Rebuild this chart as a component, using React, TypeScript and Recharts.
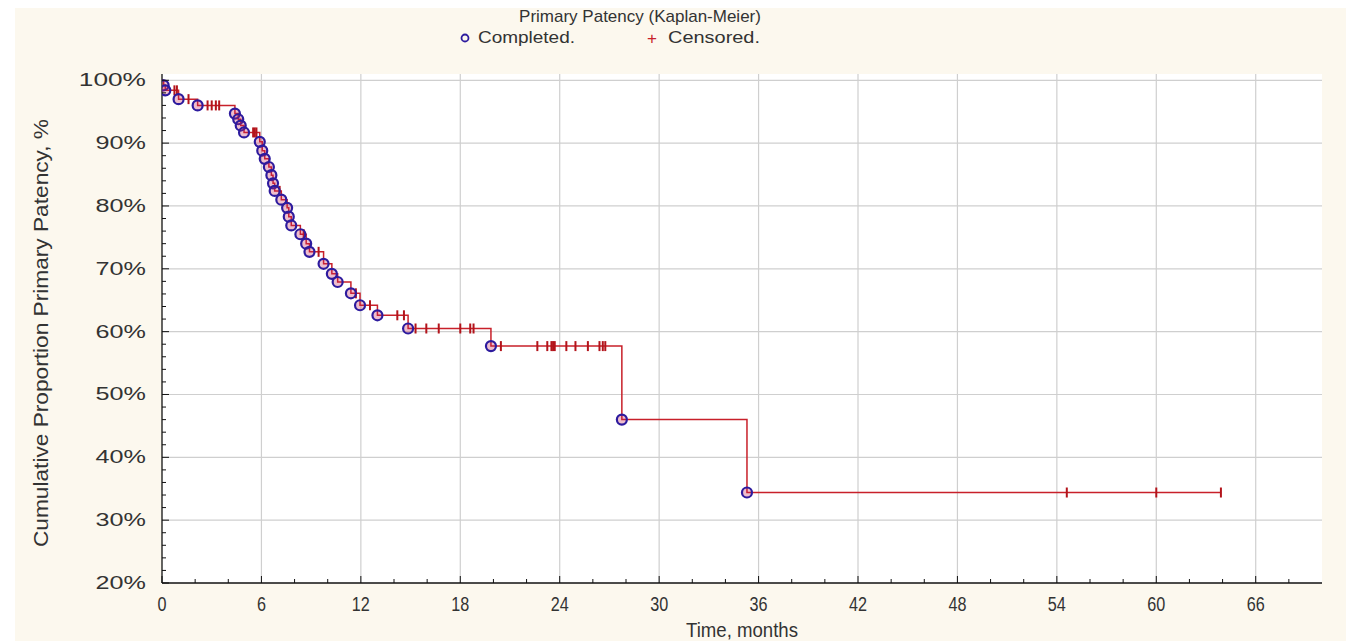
import { ComposedChart, Line, Scatter, XAxis, YAxis, CartesianGrid } from 'recharts';

// Kaplan-Meier primary patency
const completedTimes = [
  0.1, 0.2, 1.0, 2.15, 4.4, 4.6, 4.75, 4.95, 5.9, 6.05, 6.2, 6.45, 6.6, 6.7, 6.8, 7.2, 7.55, 7.65, 7.8,
  8.35, 8.7, 8.9, 9.75, 10.25, 10.6, 11.4, 11.95, 13.0, 14.85, 19.85, 27.75, 35.3,
];
const completedSurvival = [
  99.2, 98.4, 97.0, 96.0, 94.7, 93.8, 92.8, 91.7, 90.2, 88.8, 87.5, 86.2, 84.9, 83.6, 82.4, 81.0, 79.7, 78.3,
  76.9, 75.5, 74.0, 72.7, 70.8, 69.2, 67.9, 66.1, 64.2, 62.6, 60.5, 57.7, 46.0, 34.4,
];
const censoredTimes = [
  0.75, 0.9, 1.6, 2.75, 3.0, 3.25, 3.45, 5.5, 5.6, 5.7, 7.1, 8.55, 9.45, 11.7, 12.55, 14.2, 14.6, 15.3,
  15.95, 16.7, 18.0, 18.6, 18.8, 20.45, 22.65, 23.25, 23.5, 23.6, 23.7, 24.4, 24.95, 25.7, 26.4, 26.6,
  26.75, 54.6, 60.0, 63.9,
];

const xMajorTicks = [0, 6, 12, 18, 24, 30, 36, 42, 48, 54, 60, 66];
const xMinorTicks = Array.from({ length: 35 }, (_, i) => i * 2);
const yMajorTicks = [20, 30, 40, 50, 60, 70, 80, 90, 100];
const yMinorTicks = Array.from({ length: 41 }, (_, i) => 20 + i * 2);

const completed = completedTimes.map((t, i) => ({ t, s: completedSurvival[i] }));
const levelAt = (t: number) => {
  let s = 100;
  completed.forEach((p) => {
    if (p.t <= t) s = p.s;
  });
  return s;
};
const censored = censoredTimes.map((t) => ({ t, s: levelAt(t) }));
const curve = [{ t: 0, s: 100 }, ...completed, ...censored].sort((a, b) => a.t - b.t);

const TEXT = '#333';
const RED = '#c8202a';
const BLUE = '#2d1b9e';
const FONT = "'Liberation Sans', Arial, sans-serif";
const NARROW = "'Liberation Sans Narrow', 'Arial Narrow', 'Liberation Sans', sans-serif";
const X_MARGIN = 8;
const Y_MARGIN = 8;

function BottomTick(props: any) {
  const { x, y, payload } = props;
  const v = payload.value as number;
  const major = v % 6 === 0;
  const edge = y - X_MARGIN;
  return (
    <g>
      <line x1={x} x2={x} y1={edge} y2={edge - (major ? 7 : 4)} stroke="#111" />
      {major && (
        <text
          x={x}
          y={edge + 28}
          textAnchor="middle"
          fontSize={20}
          fill={TEXT}
          fontFamily={NARROW}
          textLength={String(v).length * 9}
          lengthAdjust="spacingAndGlyphs"
        >
          {v}
        </text>
      )}
    </g>
  );
}

function TopTick(props: any) {
  const { x, y, payload } = props;
  const major = (payload.value as number) % 6 === 0;
  return <line x1={x} x2={x} y1={y} y2={y + (major ? 7 : 4)} stroke="#111" />;
}

function LeftTick(props: any) {
  const { x, y, payload } = props;
  const v = payload.value as number;
  const major = v % 10 === 0;
  const edge = x + Y_MARGIN;
  const label = `${v}%`;
  return (
    <g>
      <line x1={edge} x2={edge + (major ? 7 : 4)} y1={y} y2={y} stroke="#111" />
      {major && (
        <text
          x={edge - 16}
          y={y + 6}
          textAnchor="end"
          fontSize={18}
          fill={TEXT}
          fontFamily={FONT}
          textLength={label.length * 16.8}
          lengthAdjust="spacingAndGlyphs"
        >
          {label}
        </text>
      )}
    </g>
  );
}

function RightTick(props: any) {
  const { x, y, payload } = props;
  const major = (payload.value as number) % 10 === 0;
  return <line x1={x} x2={x - (major ? 7 : 4)} y1={y} y2={y} stroke="#111" />;
}

function CompletedDot(props: any) {
  const { cx, cy } = props;
  return <circle cx={cx} cy={cy} r={5} fill="rgba(200,40,90,0.3)" stroke={BLUE} strokeWidth={2.2} />;
}

function CensoredMark(props: any) {
  const { cx, cy } = props;
  return <line x1={cx} x2={cx} y1={cy - 5} y2={cy + 5} stroke="#b3141b" strokeWidth={2} />;
}

export default function App() {
  return (
    <div style={{ position: 'absolute', left: 0, top: 0, width: 1346, height: 641, background: '#fff', overflow: 'hidden' }}>
      <div style={{ position: 'absolute', left: 15, top: 8, right: 0, bottom: 0, background: '#fcf8ee' }} />
      <div style={{ position: 'absolute', left: 0, top: 0 }}>
        <ComposedChart width={1346} height={641} margin={{ top: 74, right: 24, bottom: 28, left: 0 }}>
          <CartesianGrid
            xAxisId="x"
            yAxisId="y"
            fill="#fff"
            stroke="#cfcfcf"
            strokeWidth={1.2}
            verticalValues={xMajorTicks.slice(1)}
            horizontalValues={yMajorTicks.slice(1)}
          />
          <XAxis
            xAxisId="x"
            dataKey="t"
            type="number"
            domain={[0, 70]}
            ticks={xMinorTicks}
            interval={0}
            height={30}
            tickSize={0}
            tickMargin={X_MARGIN}
            tickLine={false}
            tick={<BottomTick />}
            axisLine={{ stroke: '#111', strokeWidth: 1.3 }}
            allowDataOverflow
          />
          <XAxis
            xAxisId="top"
            orientation="top"
            type="number"
            domain={[0, 70]}
            ticks={xMinorTicks}
            interval={0}
            height={0}
            tickSize={0}
            tickMargin={0}
            tickLine={false}
            tick={<TopTick />}
            axisLine={{ stroke: '#111', strokeWidth: 1.3 }}
            allowDataOverflow
          />
          <YAxis
            yAxisId="y"
            type="number"
            domain={[20, 101]}
            ticks={yMinorTicks}
            interval={0}
            width={162}
            tickSize={0}
            tickMargin={Y_MARGIN}
            tickLine={false}
            tick={<LeftTick />}
            axisLine={{ stroke: '#111', strokeWidth: 1.3 }}
            allowDataOverflow
          />
          <YAxis
            yAxisId="right"
            orientation="right"
            type="number"
            domain={[20, 101]}
            ticks={yMinorTicks}
            interval={0}
            width={0}
            tickSize={0}
            tickMargin={0}
            tickLine={false}
            tick={<RightTick />}
            axisLine={{ stroke: '#111', strokeWidth: 1.3 }}
            allowDataOverflow
          />
          <Line
            xAxisId="x"
            yAxisId="y"
            data={curve}
            dataKey="s"
            type="stepAfter"
            stroke={RED}
            strokeWidth={1.5}
            dot={false}
            activeDot={false}
            isAnimationActive={false}
          />
          <Scatter
            xAxisId="x"
            yAxisId="y"
            data={censored}
            dataKey="s"
            shape={<CensoredMark />}
            isAnimationActive={false}
          />
          <Scatter
            xAxisId="x"
            yAxisId="y"
            data={completed}
            dataKey="s"
            shape={<CompletedDot />}
            isAnimationActive={false}
          />
        </ComposedChart>
      </div>
      <svg width={1346} height={641} style={{ position: 'absolute', left: 0, top: 0, pointerEvents: 'none' }}>
        <text x={640} y={22} textAnchor="middle" fontSize={17} fill={TEXT} fontFamily={FONT}>
          Primary Patency (Kaplan-Meier)
        </text>
        <circle cx={465} cy={38} r={3.5} fill="none" stroke={BLUE} strokeWidth={1.8} />
        <text x={478} y={43} fontSize={16} fill={TEXT} fontFamily={FONT} textLength={97} lengthAdjust="spacingAndGlyphs">
          Completed.
        </text>
        <text x={652} y={44} textAnchor="middle" fontSize={17} fill={RED} fontFamily={FONT}>
          +
        </text>
        <text x={668} y={43} fontSize={16} fill={TEXT} fontFamily={FONT} textLength={92} lengthAdjust="spacingAndGlyphs">
          Censored.
        </text>
        <text
          transform="translate(48 333) rotate(-90)"
          textAnchor="middle"
          fontSize={20}
          fill={TEXT}
          fontFamily={NARROW}
          textLength={428}
          lengthAdjust="spacingAndGlyphs"
        >
          Cumulative Proportion Primary Patency, %
        </text>
        <text
          x={742}
          y={637}
          textAnchor="middle"
          fontSize={20}
          fill={TEXT}
          fontFamily={NARROW}
          textLength={112}
          lengthAdjust="spacingAndGlyphs"
        >
          Time, months
        </text>
      </svg>
    </div>
  );
}
